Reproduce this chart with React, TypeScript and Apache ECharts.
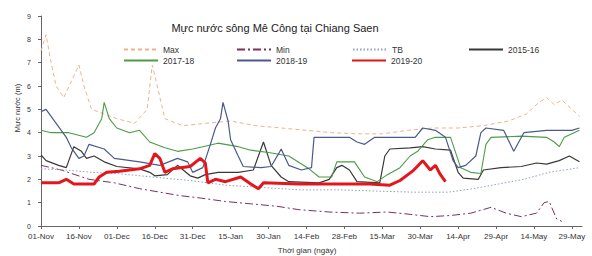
import React, { useEffect, useRef } from "react";
import * as echarts from "echarts";

const tickLabels = [
  "01-Nov", "16-Nov", "01-Dec", "16-Dec", "31-Dec", "15-Jan", "30-Jan", "14-Feb",
  "28-Feb", "15-Mar", "30-Mar", "14-Apr", "29-Apr", "14-May", "29-May",
];

// [day since 01-Nov, water level m]
const maxSeries = [
  [0, 7.5], [2, 8.2], [4, 7.0], [6, 6.0], [9, 5.5], [12, 6.2], [15, 6.9], [17, 6.0], [20, 5.0],
  [25, 4.8], [30, 4.6], [37, 4.4], [42, 5.0], [44, 6.9], [46, 6.0], [49, 4.6], [56, 4.3], [65, 4.4],
  [75, 4.5], [85, 4.3], [95, 4.2], [105, 4.1], [115, 4.0], [125, 3.95], [135, 3.95], [145, 4.1],
  [155, 4.2], [165, 4.2], [175, 4.3], [185, 4.5], [192, 4.8], [197, 5.3], [200, 5.5], [203, 5.2],
  [206, 5.4], [210, 5.0], [213, 4.7],
];
const minSeries = [
  [0, 2.6], [8, 2.4], [19, 2.0], [29, 1.85], [39, 1.6], [47, 1.45], [55, 1.3], [63, 1.2], [73, 1.05],
  [83, 0.95], [93, 0.85], [102, 0.7], [114, 0.6], [126, 0.55], [137, 0.6], [146, 0.5], [154, 0.4],
  [162, 0.45], [170, 0.55], [178, 0.8], [184, 0.55], [190, 0.4], [196, 0.55], [199, 1.0], [201, 1.05],
  [204, 0.3], [206, 0.2],
];
const tbSeries = [
  [0, 2.45], [10, 2.4], [20, 2.3], [30, 2.25], [44, 2.1], [59, 1.95], [73, 1.75], [88, 1.65],
  [102, 1.55], [117, 1.55], [132, 1.5], [147, 1.45], [161, 1.45], [171, 1.6], [181, 1.8],
  [191, 2.0], [201, 2.3], [213, 2.5],
];
const s2015 = [
  [0, 3.05], [2, 2.8], [7, 2.6], [10, 2.5], [12, 3.1], [13, 3.4], [16, 3.2], [18, 2.9], [21, 3.0],
  [25, 2.75], [30, 2.55], [39, 2.45], [43, 2.3], [45, 2.15], [50, 2.2], [54, 2.6], [59, 2.15],
  [62, 2.05], [65, 2.2], [70, 2.3], [78, 2.3], [84, 2.4], [88, 3.6], [91, 2.6], [95, 2.1], [98, 1.9],
  [110, 1.85], [114, 2.0], [117, 2.5], [119, 2.6], [122, 2.4], [125, 1.9], [134, 1.85], [136, 3.0],
  [138, 3.3], [146, 3.35], [151, 3.4], [156, 3.3], [162, 3.25], [165, 2.3], [167, 2.05], [173, 2.0],
  [175, 2.4], [182, 2.5], [190, 2.55], [196, 2.7], [200, 2.65], [205, 2.8], [209, 3.0], [213, 2.75],
];
const s2017 = [
  [0, 4.1], [4, 4.0], [11, 4.0], [18, 3.8], [21, 4.0], [24, 4.6], [25, 5.3], [27, 4.6], [30, 4.2],
  [35, 4.0], [39, 4.1], [43, 3.6], [49, 3.35], [54, 3.2], [60, 3.3], [64, 3.4], [70, 3.55], [78, 3.4],
  [83, 3.25], [90, 3.15], [98, 3.0], [106, 2.45], [110, 2.1], [115, 2.1], [117, 2.75], [124, 2.75],
  [128, 2.1], [133, 1.9], [137, 2.2], [142, 2.5], [146, 3.0], [149, 3.2], [153, 3.7], [156, 3.8],
  [162, 3.8], [166, 2.5], [170, 2.3], [174, 2.25], [176, 3.5], [178, 3.8], [190, 3.85], [200, 3.8],
  [203, 3.6], [205, 3.4], [207, 3.8], [213, 4.1],
];
const s2018 = [
  [0, 4.9], [2, 5.0], [6, 4.4], [10, 3.8], [12, 3.35], [15, 2.9], [17, 3.0], [19, 3.5], [25, 3.3],
  [29, 2.9], [39, 2.75], [47, 2.6], [54, 2.9], [58, 2.75], [60, 2.3], [64, 2.5], [67, 3.5], [69, 4.2],
  [71, 4.6], [72, 5.3], [74, 4.5], [75, 3.7], [78, 3.0], [80, 2.55], [87, 2.5], [91, 2.55], [94, 3.1],
  [95, 3.3], [98, 2.6], [103, 2.4], [107, 2.5], [108, 3.8], [122, 3.8], [125, 3.6], [128, 3.5],
  [132, 3.8], [148, 3.8], [151, 4.2], [156, 4.1], [160, 3.8], [163, 2.8], [165, 2.5], [168, 2.6],
  [172, 3.0], [174, 4.0], [176, 4.2], [183, 4.1], [187, 3.2], [191, 4.0], [200, 4.1], [210, 4.1],
  [213, 4.2],
];
const s2019 = [
  [0, 1.85], [7, 1.85], [10, 2.0], [13, 1.8], [21, 1.8], [23, 2.1], [26, 2.3], [31, 2.35], [39, 2.45],
  [43, 2.6], [45, 3.1], [47, 2.9], [49, 2.3], [52, 2.45], [59, 2.55], [63, 2.9], [65, 2.7], [66, 1.85],
  [69, 2.0], [73, 1.9], [79, 2.1], [83, 1.8], [86, 1.6], [88, 1.85], [102, 1.8], [130, 1.8],
  [138, 1.75], [142, 1.95], [147, 2.35], [151, 2.8], [154, 2.4], [156, 2.6], [158, 2.2], [160, 1.9],
];

const FONT = "'Liberation Sans', Arial, sans-serif";

export default function App() {
  const ref = useRef<HTMLDivElement>(null);
  useEffect(() => {
    if (!ref.current) return;
    const chart = echarts.init(ref.current, null, { renderer: "svg" });
    const line = (name: string, data: number[][], color: string, width: number, type: any, z = 2) => ({
      name, type: "line", data, symbol: "none", showSymbol: false, z,
      lineStyle: { color, width, type }, itemStyle: { color },
    });
    const legendPos: [string, number, number][] = [
      ["Max", 118, 40], ["Min", 231, 40], ["TB", 347, 40], ["2015-16", 463, 40],
      ["2017-18", 118, 51], ["2018-19", 231, 51], ["2019-20", 346, 51],
    ];
    chart.setOption({
      animation: false,
      backgroundColor: "#ffffff",
      textStyle: { fontFamily: FONT },
      grid: { left: 41, right: 10, top: 16, bottom: 30, containLabel: false },
      legend: legendPos.map(([name, left, top]) => ({
        data: [name], left, top, itemWidth: 34, itemHeight: 8, itemGap: 0,
        itemStyle: { opacity: 0 },
        textStyle: { fontSize: 8.5, color: "#333", fontFamily: FONT, padding: [0, 0, 0, 0] },
      })),
      graphic: [
        { type: "text", x: 275, y: 28, style: { text: "Mực nước sông Mê Công tại Chiang Saen", fontSize: 11, fontFamily: FONT, fill: "#222", align: "center", verticalAlign: "middle" } },
        { type: "text", x: 17, y: 108, rotation: Math.PI / 2, style: { text: "Mực nước (m)", fontSize: 7.5, fontFamily: FONT, fill: "#333", align: "center", verticalAlign: "middle" } },
        { type: "text", x: 307, y: 250, style: { text: "Thời gian (ngày)", fontSize: 8, fontFamily: FONT, fill: "#333", align: "center", verticalAlign: "middle" } },
      ],
      xAxis: {
        type: "value", min: 0, max: 214, interval: 15,
        axisLine: { show: true, lineStyle: { color: "#666", width: 1 } },
        axisTick: { show: true, length: 3, lineStyle: { color: "#666" } },
        splitLine: { show: false },
        axisLabel: {
          fontSize: 8, color: "#333", margin: 6, showMaxLabel: false, fontFamily: FONT,
          formatter: (v: number) => (v % 15 === 0 ? tickLabels[v / 15] ?? "" : ""),
        },
      },
      yAxis: {
        type: "value", min: 0, max: 9, interval: 1,
        axisLine: { show: true, lineStyle: { color: "#666", width: 1 } },
        axisTick: { show: true, length: 3, lineStyle: { color: "#666" } },
        splitLine: { show: false },
        axisLabel: { fontSize: 7, color: "#333", margin: 10, fontFamily: FONT },
      },
      series: [
        line("Max", maxSeries, "#f4b08a", 1, [4, 3]),
        line("Min", minSeries, "#7a3060", 1, [8, 3, 2, 3]),
        line("TB", tbSeries, "#8fa0c0", 1, [1.5, 2]),
        line("2015-16", s2015, "#383838", 1.2, "solid", 3),
        line("2017-18", s2017, "#4c9c48", 1.1, "solid", 3),
        line("2018-19", s2018, "#4b5a8c", 1.2, "solid", 3),
        line("2019-20", s2019, "#e3161c", 3, "solid", 4),
      ],
    });
    return () => chart.dispose();
  }, []);
  return <div ref={ref} style={{ width: 592, height: 256, position: "absolute", left: 0, top: 0 }} />;
}
